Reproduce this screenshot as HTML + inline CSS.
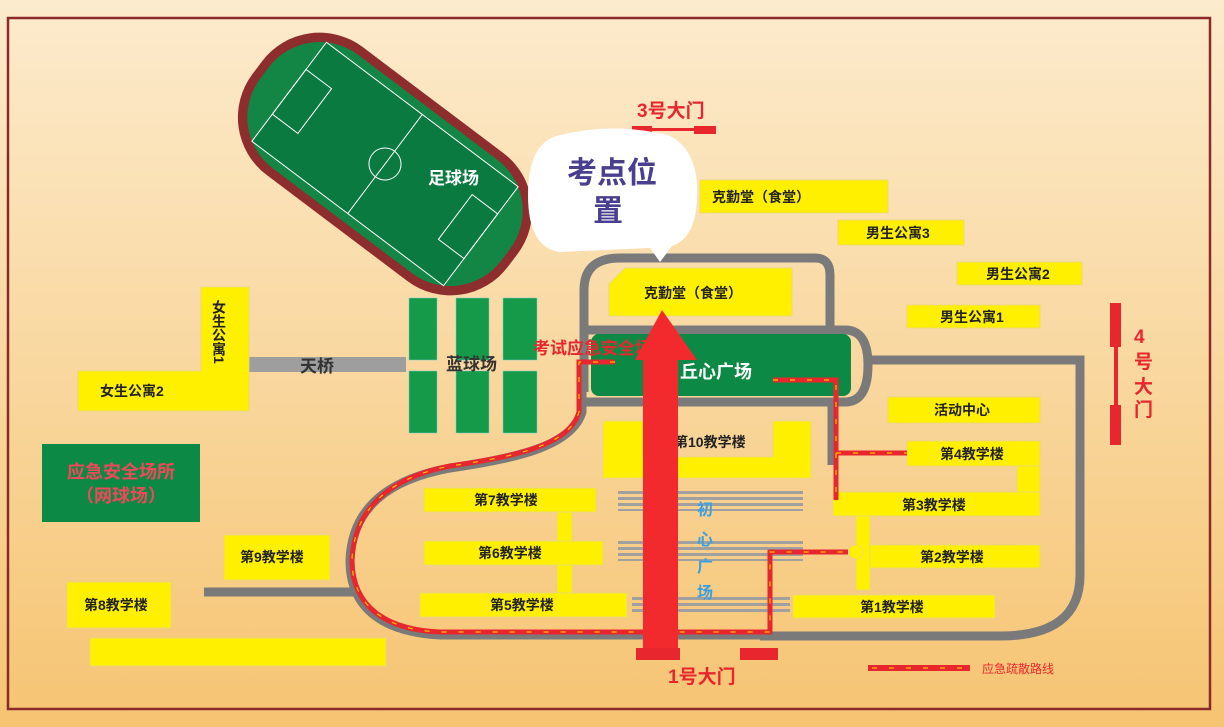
<!DOCTYPE html>
<html><head><meta charset="utf-8"><style>
html,body{margin:0;padding:0;}
body{width:1224px;height:727px;overflow:hidden;background:linear-gradient(#fcebcd,#f6c472);}
svg{display:block;}
text{font-family:"Liberation Sans","Noto Sans CJK SC",sans-serif;}
</style></head><body>
<svg width="1224" height="727" viewBox="0 0 1224 727">
<defs>
<linearGradient id="bg" x1="0" y1="0" x2="0" y2="1"><stop offset="0" stop-color="#fcebcd"/><stop offset="1" stop-color="#f6c472"/></linearGradient>
</defs>
<rect width="1224" height="727" fill="url(#bg)"/>
<rect x="8" y="18" width="1202" height="691" fill="none" stroke="#8b2a2a" stroke-width="2.5"/>

<!-- football -->
<g transform="translate(385,164) rotate(37)">
<rect x="-160" y="-80" width="320" height="160" rx="72" fill="#8e2d2d"/>
<rect x="-151" y="-71" width="302" height="142" rx="64" fill="#138646"/>
<rect x="-120" y="-62" width="240" height="124" fill="#0b7a40" stroke="#fff" stroke-width="1"/>
<line x1="0" y1="-62" x2="0" y2="62" stroke="#fff"/>
<circle cx="0" cy="0" r="16" fill="none" stroke="#fff"/>
<rect x="-120" y="-28" width="32" height="56" fill="none" stroke="#fff"/>
<rect x="88" y="-28" width="32" height="56" fill="none" stroke="#fff"/>
</g>
<text x="428" y="184" font-size="17" font-weight="bold" fill="#fff">足球场</text>

<!-- roads -->
<g fill="none" stroke="#7a7a7a" stroke-width="9">
<path d="M584 392 L584 290 Q584 258 620 258 L815 258 Q830 258 830 275 L830 330"/>
<path d="M584 330 L845 330 Q868 330 868 365 Q868 402 845 402 L584 402"/>
<path d="M868 360 L1080 360 L1080 575 Q1080 636 1000 636 L760 636"/>
<path d="M832 402 L832 465"/>
<path d="M204 592 L358 592"/>
<path d="M582 390 L582 412 C572 445 520 458 450 468 C385 480 352 510 350 560 C350 610 385 632 440 635 L760 635"/>
</g>
<rect x="249" y="357" width="157" height="15" fill="#9e9e9e"/>
<text x="300" y="372" font-size="17" font-weight="bold" fill="#333">天桥</text>

<!-- basketball -->
<g fill="#149a48" stroke="#7cc" stroke-width="0.5">
<rect x="409" y="298" width="28" height="62"/><rect x="456" y="298" width="33" height="62"/><rect x="503" y="298" width="34" height="62"/>
<rect x="409" y="371" width="28" height="62"/><rect x="456" y="371" width="33" height="62"/><rect x="503" y="371" width="34" height="62"/>
</g>
<text x="446" y="370" font-size="17" font-weight="bold" fill="#333">蓝球场</text>

<!-- green plazas -->
<rect x="591" y="334" width="260" height="62" rx="8" fill="#0c8a45"/>
<text x="680" y="378" font-size="18" font-weight="bold" fill="#fff">丘心广场</text>
<rect x="42" y="444" width="158" height="78" fill="#0c8a45"/>
<text x="121" y="478" font-size="18" font-weight="bold" fill="#f0485a" text-anchor="middle">应急安全场所</text>
<text x="121" y="502" font-size="18" font-weight="bold" fill="#f0485a" text-anchor="middle">（网球场）</text>

<!-- stripes -->
<g fill="#a0a0a0">
<rect x="618" y="491" width="185" height="3"/><rect x="618" y="497" width="185" height="3"/><rect x="618" y="503" width="185" height="3"/><rect x="618" y="509" width="185" height="2"/>
<rect x="618" y="541" width="185" height="3"/><rect x="618" y="547" width="185" height="3"/><rect x="618" y="553" width="185" height="3"/><rect x="618" y="559" width="185" height="2"/>
<rect x="632" y="597" width="158" height="3"/><rect x="632" y="603" width="158" height="3"/><rect x="632" y="609" width="158" height="3"/>
</g>

<!-- yellow buildings -->
<g fill="#fff000" stroke="#e8d880" stroke-width="0.8">
<rect x="700" y="180" width="188" height="33"/>
<rect x="838" y="220" width="126" height="25"/>
<rect x="957" y="262" width="125" height="23"/>
<rect x="907" y="305" width="133" height="23"/>
<path d="M625 268 L792 268 L792 316 L609 316 L609 284 Z"/>
<rect x="888" y="397" width="152" height="26"/>
<rect x="907" y="441" width="133" height="25"/>
<rect x="1017" y="466" width="23" height="26"/>
<rect x="833" y="492" width="207" height="24"/>
<rect x="856" y="516" width="14" height="74"/>
<circle cx="856" cy="552" r="7"/>
<rect x="870" y="545" width="170" height="23"/>
<rect x="793" y="595" width="202" height="23"/>
<path d="M603 421 L643 421 L643 457 L773 457 L773 421 L811 421 L811 478 L603 478 Z"/>
<rect x="557" y="512" width="15" height="81"/>
<rect x="424" y="488" width="172" height="24"/>
<rect x="424" y="541" width="179" height="24"/>
<rect x="420" y="593" width="207" height="24"/>
<rect x="224" y="535" width="106" height="45"/>
<rect x="67" y="582" width="104" height="46"/>
<rect x="90" y="638" width="296" height="28"/>
<path d="M201 287 L249 287 L249 411 L78 411 L78 371 L201 371 Z"/>
</g>
<g font-size="14" fill="#222" font-weight="bold">
<text x="712" y="202">克勤堂（食堂）</text>
<text x="866" y="238">男生公寓3</text>
<text x="986" y="279">男生公寓2</text>
<text x="940" y="322">男生公寓1</text>
<text x="644" y="298">克勤堂（食堂）</text>
<text x="934" y="415">活动中心</text>
<text x="940" y="459">第4教学楼</text>
<text x="902" y="510">第3教学楼</text>
<text x="920" y="562">第2教学楼</text>
<text x="860" y="612">第1教学楼</text>
<text x="674" y="447">第10教学楼</text>
<text x="474" y="505">第7教学楼</text>
<text x="478" y="558">第6教学楼</text>
<text x="490" y="610">第5教学楼</text>
<text x="240" y="562">第9教学楼</text>
<text x="84" y="610">第8教学楼</text>
<text x="100" y="396">女生公寓2</text>
<text x="219" y="300" writing-mode="tb">女生公寓1</text>
</g>

<!-- evacuation route -->
<g fill="none" stroke="#e8262e" stroke-width="5">
<path d="M615 362 L579 362 L579 412 C570 444 520 456 450 466 C388 478 354 510 352 560 C352 608 388 630 440 632 L770 632 L770 552 L848 552"/>
<path d="M773 380 L836 380 L836 500"/>
<path d="M836 453 L907 453"/>
</g>
<g fill="none" stroke="#ffc000" stroke-width="1.2" stroke-dasharray="5 12">
<path d="M615 362 L579 362 L579 412 C570 444 520 456 450 466 C388 478 354 510 352 560 C352 608 388 630 440 632 L770 632 L770 552 L848 552"/>
<path d="M773 380 L836 380 L836 500"/>
<path d="M836 453 L907 453"/>
</g>

<text x="533" y="354" font-size="17" font-weight="bold" fill="#e8262e">考试应急安全场所</text>

<!-- big arrow -->
<path d="M643 660 L643 360 L635 360 L662 310 L697 360 L678 360 L678 660 Z" fill="#f22a2e"/>
<rect x="636" y="648" width="44" height="12" fill="#e8262e"/>
<rect x="740" y="648" width="38" height="12" fill="#e8262e"/>
<text x="668" y="683" font-size="19" font-weight="bold" fill="#e8262e">1号大门</text>

<g font-size="16" font-weight="bold" fill="#3aa0e0">
<text x="697" y="515">初</text><text x="697" y="545">心</text><text x="697" y="572">广</text><text x="697" y="598">场</text>
</g>

<!-- gate 3 -->
<text x="637" y="117" font-size="19" font-weight="bold" fill="#e8262e">3号大门</text>
<rect x="632" y="128" width="84" height="3" fill="#e8262e"/>
<rect x="632" y="126" width="20" height="8" fill="#e8262e"/>
<rect x="694" y="126" width="22" height="8" fill="#e8262e"/>

<!-- gate 4 -->
<rect x="1114" y="303" width="4" height="142" fill="#e8262e"/>
<rect x="1110" y="303" width="11" height="44" fill="#e8262e"/>
<rect x="1110" y="405" width="11" height="40" fill="#e8262e"/>
<g font-size="19" font-weight="bold" fill="#e8262e">
<text x="1134" y="343">4</text><text x="1134" y="368">号</text><text x="1134" y="393">大</text><text x="1134" y="416">门</text>
</g>

<!-- bubble -->
<path d="M560 135 Q612 122 668 135 Q700 150 697 200 Q695 238 672 246 L660 262 L650 248 L560 252 Q528 248 528 195 Q528 142 560 135 Z" fill="#fff"/>
<text x="612" y="183" font-size="30" font-weight="bold" fill="#4a3f8f" text-anchor="middle">考点位</text>
<text x="608" y="221" font-size="30" font-weight="bold" fill="#4a3f8f" text-anchor="middle">置</text>

<!-- legend -->
<rect x="868" y="665" width="102" height="6" fill="#e8262e"/>
<line x1="872" y1="668" x2="966" y2="668" stroke="#ffc000" stroke-width="1.2" stroke-dasharray="5 12"/>
<text x="982" y="673" font-size="12" fill="#e8262e">应急疏散路线</text>
</svg>
</body></html>
